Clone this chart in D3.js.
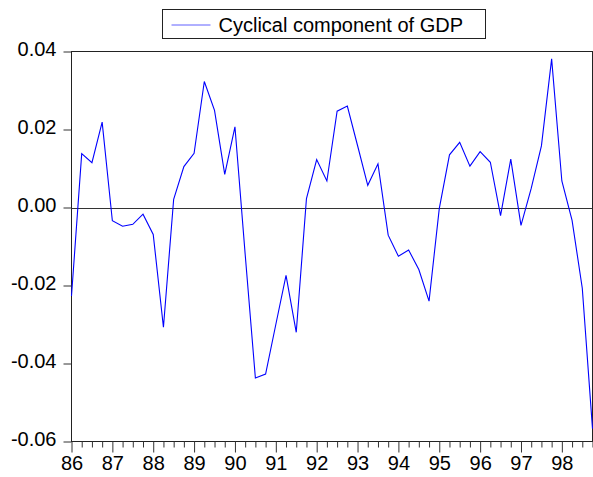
<!DOCTYPE html>
<html lang="en">
<head>
  <meta charset="UTF-8">
  <title>Cyclical component of GDP</title>
  <script src="https://d3js.org/d3.v7.min.js"></script>
  <style>
    body {
      margin: 0;
      background: #fff;
    }
    svg {
      display: block;
      font-family: 'Liberation Sans', Arial, sans-serif;
    }
    .tick text {
      font-size: 20px;
      fill: #000;
    }
    .tick line {
      stroke: #333;
    }
  </style>
</head>
<body>
  <svg id="chart" width="593" height="477"></svg>

  <script>
    // quarterly data, 1986Q1 .. 1998Q4
    const seriesName = "Cyclical component of GDP";
    const yearLabels = ["86", "87", "88", "89", "90", "91", "92", "93", "94", "95", "96", "97", "98"];
    const yTicks = [-0.06, -0.04, -0.02, 0.00, 0.02, 0.04];
    const cycle = [
      -0.0227, 0.0138, 0.0115, 0.0219,
      -0.0034, -0.0048, -0.0043, -0.0017,
      -0.0069, -0.0307, 0.0021, 0.0105,
      0.0139, 0.0323, 0.0249, 0.0085,
      0.0207, -0.0120, -0.0437, -0.0427,
      -0.0300, -0.0174, -0.0320, 0.0023,
      0.0123, 0.0068, 0.0247, 0.0260,
      0.0159, 0.0057, 0.0112, -0.0071,
      -0.0125, -0.0109, -0.0159, -0.0240,
      -0.0003, 0.0135, 0.0167, 0.0106,
      0.0143, 0.0116, -0.0021, 0.0124,
      -0.0046, 0.0049, 0.0158, 0.0381,
      0.0068, -0.0033, -0.0207, -0.0567
    ];

    const svg = d3.select("#chart");
    const plotLeft = 71.5, plotRight = 592.5, plotTop = 51.5, plotBottom = 441.5;

    const x = d3.scaleLinear()
      .domain([0, cycle.length - 1])
      .range([plotLeft, plotRight]);

    const y = d3.scaleLinear()
      .domain([-0.06, 0.04])
      .range([plotBottom, plotTop]);

    // frame
    svg.append("rect")
      .attr("x", plotLeft).attr("y", plotTop)
      .attr("width", plotRight - plotLeft).attr("height", plotBottom - plotTop)
      .attr("fill", "none")
      .attr("stroke", "#222");

    // zero line
    svg.append("line")
      .attr("x1", plotLeft).attr("x2", plotRight)
      .attr("y1", Math.round(y(0)) + 0.5).attr("y2", Math.round(y(0)) + 0.5)
      .attr("stroke", "#333");

    // y axis (plain hyphen for negatives, like the original)
    const fmt = d3.format(".2f");
    const yAxis = svg.append("g")
      .attr("transform", `translate(${plotLeft},0)`)
      .call(d3.axisLeft(y)
        .tickValues(yTicks)
        .tickSize(8)
        .tickPadding(7)
        .tickFormat(d => fmt(d).replace("\u2212", "-")));
    yAxis.select(".domain").remove();
    yAxis.selectAll(".tick text").attr("dy", "0.22em");

    // x axis, minor quarterly ticks
    const quarters = d3.range(cycle.length);
    const xMinor = svg.append("g")
      .attr("transform", `translate(0,${plotBottom})`)
      .call(d3.axisBottom(x)
        .tickValues(quarters.filter(i => i % 4 !== 0))
        .tickSize(6)
        .tickFormat(""));
    xMinor.select(".domain").remove();

    // x axis, years
    const xMajor = svg.append("g")
      .attr("transform", `translate(0,${plotBottom})`)
      .call(d3.axisBottom(x)
        .tickValues(quarters.filter(i => i % 4 === 0))
        .tickSize(11)
        .tickPadding(3)
        .tickFormat(i => yearLabels[i / 4]));
    xMajor.select(".domain").remove();

    // series
    const line = d3.line()
      .x((d, i) => x(i))
      .y(d => y(d));

    svg.append("path")
      .datum(cycle)
      .attr("fill", "none")
      .attr("stroke", "#0000ff")
      .attr("stroke-width", 1.1)
      .attr("stroke-linejoin", "miter")
      .attr("d", line);

    // legend
    const legend = svg.append("g").attr("transform", "translate(162.5,9.5)");
    legend.append("rect")
      .attr("width", 323).attr("height", 29)
      .attr("fill", "#fff")
      .attr("stroke", "#222");
    legend.append("line")
      .attr("x1", 9).attr("x2", 48)
      .attr("y1", 15.5).attr("y2", 15.5)
      .attr("stroke", "#6060ff");
    legend.append("text")
      .attr("x", 56).attr("y", 22)
      .attr("font-size", 20)
      .attr("fill", "#000")
      .text(seriesName);
  </script>
</body>
</html>
